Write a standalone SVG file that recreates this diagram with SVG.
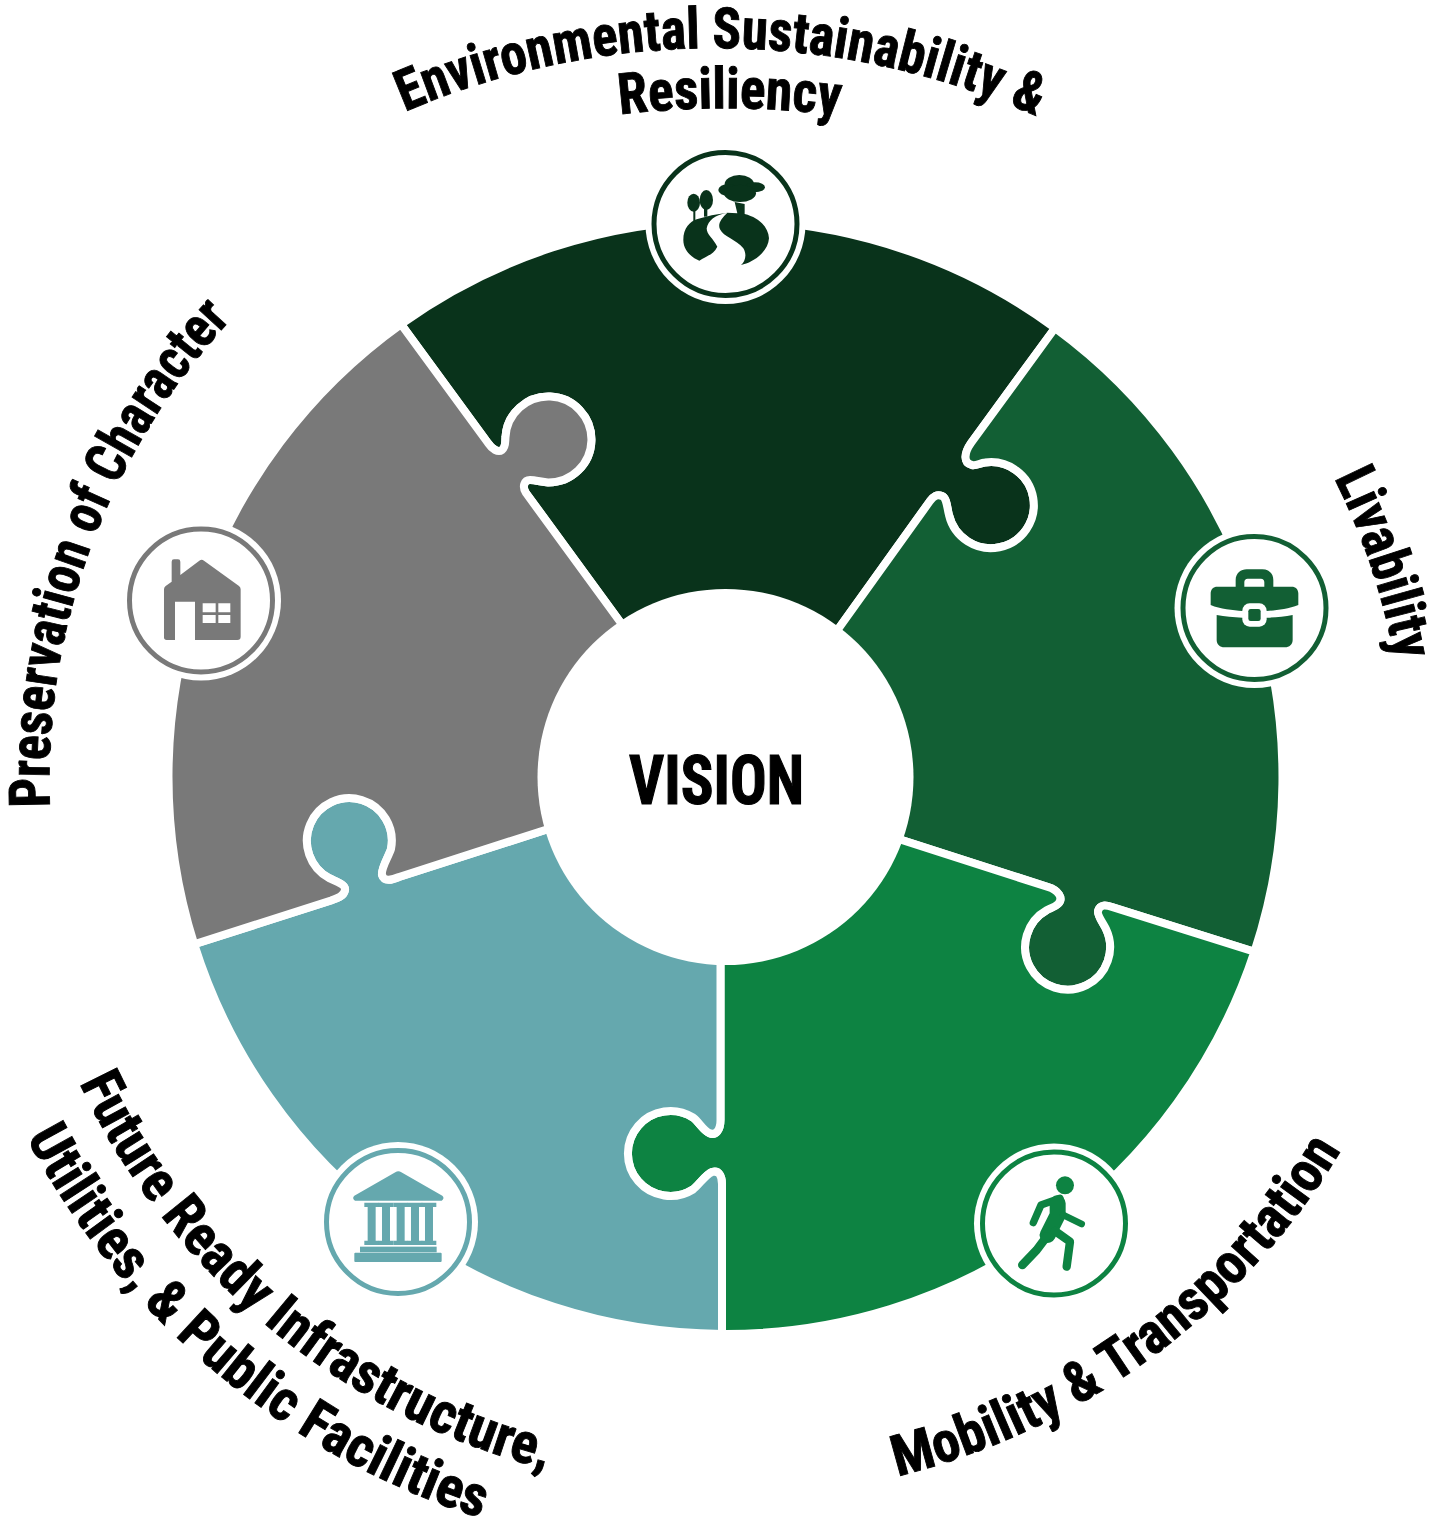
<svg xmlns="http://www.w3.org/2000/svg" width="1430" height="1521" viewBox="0 0 1430 1521">
<style>
.piece{stroke:#fff;stroke-width:8;stroke-linejoin:round}
.halo{fill:#fff}
.ring{fill:#fff;stroke-width:5}
.lbl{font-family:"Roboto Condensed","Liberation Sans Narrow","Liberation Sans",sans-serif;font-weight:700;font-size:57px;fill:#000;stroke:#000;stroke-width:.9}
.d{fill:#09331b}.m{fill:#125f34}.b{fill:#0d8342}.t{fill:#65a8ae}.g{fill:#797979}
</style>
<defs>
<path id="pEnv" d="M402,113 A790 790 0 0 1 1047,121"/>
<path id="pRes" d="M600,117 A900 900 0 0 1 850,117"/>
<path id="pLiv" d="M1330,470 A675 675 0 0 1 1395,660"/>
<path id="pMob" d="M880,1480.2 A720 720 0 0 0 1385.5,1064.7"/>
<path id="pFut" d="M75.5,1074.9 A715 715 0 0 0 605.5,1482"/>
<path id="pUti" d="M20,1125 A782 782 0 0 0 500,1524"/>
<path id="pPre" d="M50,810 A675 675 0 0 1 240,310"/>
</defs>
<g id="segments">
<path id="piece-environment" class="piece d" d="M625,628.5 L526,493 C522,487 524,480 530,480 C535,480 542,482 548,482.5 A43 43 0 1 0 505.5,437 C505,442 506,447 502,450 C498,453 492,449 488,443 L401,324.2 A557 557 0 0 1 1055,328 L971,443 C964,453 963,463 972,465 C976,466 980,463 985,462.5 A43 43 0 1 1 949,515 C947,508 947,498 942,496 C937,494 934,496 930,501 L835,633.5 Z"/>
<path id="piece-livability" class="piece m" d="M835,633.5 L930,501 C934,496 937,494 942,496 C947,498 947,508 949,515 A43 43 0 1 0 985,462.5 C980,463 976,466 972,465 C963,463 964,453 971,443 L1055,328 A557 557 0 0 1 1254.4,951.7 L1112,907 C1106,905 1100,904 1098,911 C1097,915 1103,923 1106,929 A42.5 42.5 0 1 1 1047,910 C1051,908 1055,907 1058,904 C1064,898 1058,890 1048,887 L894,837.5 Z"/>
<path id="piece-mobility" class="piece b" d="M894,837.5 L1048,887 C1058,890 1064,898 1058,904 C1055,907 1051,908 1047,910 A42.5 42.5 0 1 0 1106,929 C1103,923 1097,915 1098,911 C1100,904 1106,905 1112,907 L1254.4,951.7 A557 557 0 0 1 722,1334 L722,1184 C722,1176 719,1170 712,1172 C705,1175 699,1185 693,1189.5 A42.5 42.5 0 1 1 693,1117.5 C699,1122 703,1130 709,1133 C716,1136 720.5,1130 720.5,1120 L720.5,960 Z"/>
<path id="piece-infrastructure" class="piece t" d="M720.5,960 L720.5,1120 C720.5,1130 716,1136 709,1133 C703,1130 699,1122 693,1117.5 A42.5 42.5 0 1 0 693,1189.5 C699,1185 705,1175 712,1172 C719,1170 722,1176 722,1184 L722,1334 A557 557 0 0 1 194.2,944.2 L331,900.5 C338,898 344,896 345,890 C346,884 334,881 329,878 A42.5 42.5 0 1 1 391,849 C388,858 381,868 382,875 C384,882 392,880 399,877 L553,827.5 Z"/>
<path id="piece-character" class="piece g" d="M553,827.5 L399,877 C392,880 384,882 382,875 C381,868 388,858 391,849 A42.5 42.5 0 1 0 329,878 C334,881 346,884 345,890 C344,896 338,898 331,900.5 L194.2,944.2 A557 557 0 0 1 401,324.2 L488,443 C492,449 498,453 502,450 C506,447 505,442 505.5,437 A43 43 0 1 1 548,482.5 C542,482 535,480 530,480 C524,480 522,487 526,493 L625,628.5 Z"/>
</g>
<g id="vision">
<circle cx="725.5" cy="777" r="188" fill="#fff"/>
<text x="629" y="804" textLength="175" lengthAdjust="spacingAndGlyphs" style="font-family:'Roboto Condensed','Liberation Sans Narrow','Liberation Sans',sans-serif;font-weight:700;font-size:68px;fill:#000;stroke:#000;stroke-width:1.2">VISION</text>
</g>
<g id="badge-environment">
<circle class="halo" cx="725.5" cy="224" r="80"/>
<circle class="ring" cx="725.5" cy="224" r="71.5" stroke="#09331b"/>
<g class="d" transform="translate(640,140) scale(.3333)">
<path d="M262,218 C245,235 232,250 240,268 C250,290 290,300 310,325 C322,345 315,365 303,375 C340,368 385,335 387,295 C385,260 355,232 314,222 L314,192 L284,186 L292,220 Z"/>
<path d="M262,218 C225,225 205,240 200,265 C200,285 220,295 232,320 C220,345 195,350 178,362 C160,355 130,335 130,300 C130,265 150,245 170,238 C200,228 230,222 262,218 Z"/>
<ellipse cx="298" cy="132" rx="44" ry="27"/><ellipse cx="265" cy="150" rx="30" ry="18"/><ellipse cx="345" cy="142" rx="30" ry="15"/><ellipse cx="300" cy="160" rx="48" ry="26"/>
<ellipse cx="161" cy="188" rx="19" ry="27"/><ellipse cx="199" cy="180" rx="20" ry="30"/>
<rect x="160" y="205" width="6" height="38"/><rect x="192" y="200" width="10" height="30"/>
</g>
</g>
<g id="badge-livability">
<circle class="halo" cx="1254.5" cy="608" r="80"/>
<circle class="ring" cx="1254.5" cy="608" r="71.5" stroke="#125f34"/>
<g class="m" transform="translate(1165,525) scale(.3333)">
<path fill-rule="evenodd" d="M212,185 L212,165 C212,145 228,133 245,133 L292,133 C310,133 325,145 325,165 L325,185 L380,185 C392,185 400,193 400,205 L400,240 C370,252 330,256 305,258 L232,258 C205,256 165,252 137,240 L137,205 C137,193 145,185 157,185 Z M238,185 L298,185 L298,172 C298,165 294,161 288,161 L248,161 C242,161 238,165 238,172 Z"/>
<path d="M155,270 C180,275 205,277 232,278 L305,278 C330,277 358,275 383,270 L383,345 C383,358 373,367 360,367 L178,367 C165,367 155,358 155,345 Z"/>
<rect x="232" y="235" width="73" height="70" rx="22" fill="#fff"/>
<rect x="250" y="252" width="37" height="36" rx="7"/>
</g>
</g>
<g id="badge-mobility">
<circle class="halo" cx="1054" cy="1223.5" r="80"/>
<circle class="ring" cx="1054" cy="1223.5" r="71.5" stroke="#0d8342"/>
<g transform="translate(965,1135) scale(.3333)" fill="none" stroke="#0d8342" stroke-linecap="round" stroke-linejoin="round">
<circle cx="300" cy="151" r="27" fill="#0d8342" stroke="none"/>
<path d="M205,263 L228,210 L285,190" stroke-width="22"/>
<path d="M278,205 L278,240 L248,300" stroke-width="48"/>
<path d="M295,240 L350,267" stroke-width="20"/>
<path d="M245,305 L215,345 L172,390" stroke-width="26"/>
<path d="M270,288 L315,320 L305,395" stroke-width="25"/>
</g>
</g>
<g id="badge-infrastructure">
<circle class="halo" cx="398" cy="1222" r="80"/>
<circle class="ring" cx="398" cy="1222" r="71.5" stroke="#65a8ae"/>
<g class="t" transform="translate(315,1135) scale(.3333)">
<path d="M241,112 Q250,105 259,112 L382,182 Q390,190 380,197 L120,197 Q110,190 118,182 Z"/>
<path d="M148,203 H192 V216 H182 V317 H192 V330 H148 V317 H158 V216 H148 Z"/>
<path d="M191,203 H235 V216 H225 V317 H235 V330 H191 V317 H201 V216 H191 Z"/>
<path d="M235,203 H279 V216 H269 V317 H279 V330 H235 V317 H245 V216 H235 Z"/>
<path d="M278,203 H322 V216 H312 V317 H322 V330 H278 V317 H288 V216 H278 Z"/>
<path d="M320,203 H364 V216 H354 V317 H364 V330 H320 V317 H330 V216 H320 Z"/>
<rect x="135" y="335" width="230" height="17"/>
<rect x="118" y="353" width="262" height="28" rx="3"/>
</g>
</g>
<g id="badge-character">
<circle class="halo" cx="201" cy="600.5" r="80"/>
<circle class="ring" cx="201" cy="600.5" r="71.5" stroke="#797979"/>
<g class="g" transform="translate(120,520) scale(.3333)">
<path fill-rule="evenodd" d="M155,185 L155,125 Q155,118 162,118 L174,118 Q181,118 181,125 L181,165 L238,122 Q245,116 252,122 L357,198 Q362,202 362,208 L362,350 Q362,360 352,360 L225,360 L225,245 L165,245 L165,360 L140,360 Q132,360 132,352 L132,208 Q132,202 137,198 Z M248,250 V277 H287 V250 Z M295,250 V277 H331 V250 Z M248,285 V309 H287 V285 Z M295,285 V309 H331 V285 Z"/>
</g>
</g>
<g id="labels">
<text class="lbl"><textPath href="#pEnv" startOffset="3" textLength="650" lengthAdjust="spacingAndGlyphs">Environmental Sustainability &amp;</textPath></text>
<text class="lbl"><textPath href="#pRes" startOffset="20" textLength="220" lengthAdjust="spacingAndGlyphs">Resiliency</textPath></text>
<text class="lbl"><textPath href="#pLiv" startOffset="9" textLength="193" lengthAdjust="spacingAndGlyphs">Livability</textPath></text>
<text class="lbl"><textPath href="#pMob" startOffset="18" textLength="565" lengthAdjust="spacingAndGlyphs">Mobility &amp; Transportation</textPath></text>
<text class="lbl"><textPath href="#pFut" startOffset="9" textLength="625" lengthAdjust="spacingAndGlyphs">Future Ready Infrastructure,</textPath></text>
<text class="lbl"><textPath href="#pUti" startOffset="14" textLength="608" lengthAdjust="spacingAndGlyphs">Utilities, &amp; Public Facilities</textPath></text>
<text class="lbl"><textPath href="#pPre" startOffset="3" textLength="534" lengthAdjust="spacingAndGlyphs">Preservation of Character</textPath></text>
</g>
</svg>
